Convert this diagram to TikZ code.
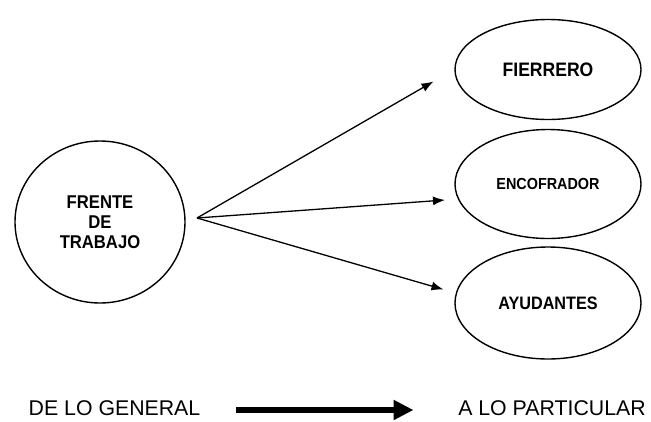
\documentclass[tikz,border=0pt]{standalone}
\usepackage{fontspec}
\setmainfont{Liberation Sans}
\newfontfamily\bnarrow[FakeStretch=0.9]{Liberation Sans}
\usetikzlibrary{shapes.geometric,arrows.meta}
\begin{document}
\begin{tikzpicture}[x=1pt,y=-1pt,
  oval/.style={ellipse,draw,line width=1.4pt,inner sep=0pt,align=center},
  thinarrow/.style={line width=1.3pt,-{Latex[length=12pt,width=9pt]}},
  bigarrow/.style={line width=6.5pt,-{Triangle[length=20pt,width=19pt]}},
  lbl/.style={inner sep=0pt,font=\fontsize{21.3}{24}\selectfont}]
\useasboundingbox (0,0) rectangle (651,421);
\node[oval,minimum width=170pt,minimum height=162pt,
  font=\bnarrow\bfseries\fontsize{18.5}{20}\selectfont] (fr) at (100,222) {FRENTE\\DE\\TRABAJO};
\node[oval,minimum width=186pt,minimum height=100pt,
  font=\bnarrow\bfseries\fontsize{19.5}{22}\selectfont] (fi) at (548,69.5) {FIERRERO};
\node[oval,minimum width=186pt,minimum height=109pt,
  font=\bnarrow\bfseries\fontsize{16}{18}\selectfont] (en) at (548,184) {ENCOFRADOR};
\node[oval,minimum width=186pt,minimum height=112pt,
  font=\bnarrow\bfseries\fontsize{18}{20}\selectfont] (ay) at (548,303) {AYUDANTES};
\coordinate (o) at (197,218);
\coordinate (t1) at (433.5,81.5);
\coordinate (t2) at (445,200);
\coordinate (t3) at (443.5,289.5);
\draw[thinarrow] (o) -- (t1);
\draw[thinarrow] (o) -- (t2);
\draw[thinarrow] (o) -- (t3);
\node[lbl] (gen) at (114.5,408) {DE LO GENERAL};
\node[lbl] (par) at (552,408) {A LO PARTICULAR};
\coordinate (a1) at (236,410);
\coordinate (a2) at (413.5,410);
\draw[bigarrow] (a1) -- (a2);
\end{tikzpicture}
\end{document}
